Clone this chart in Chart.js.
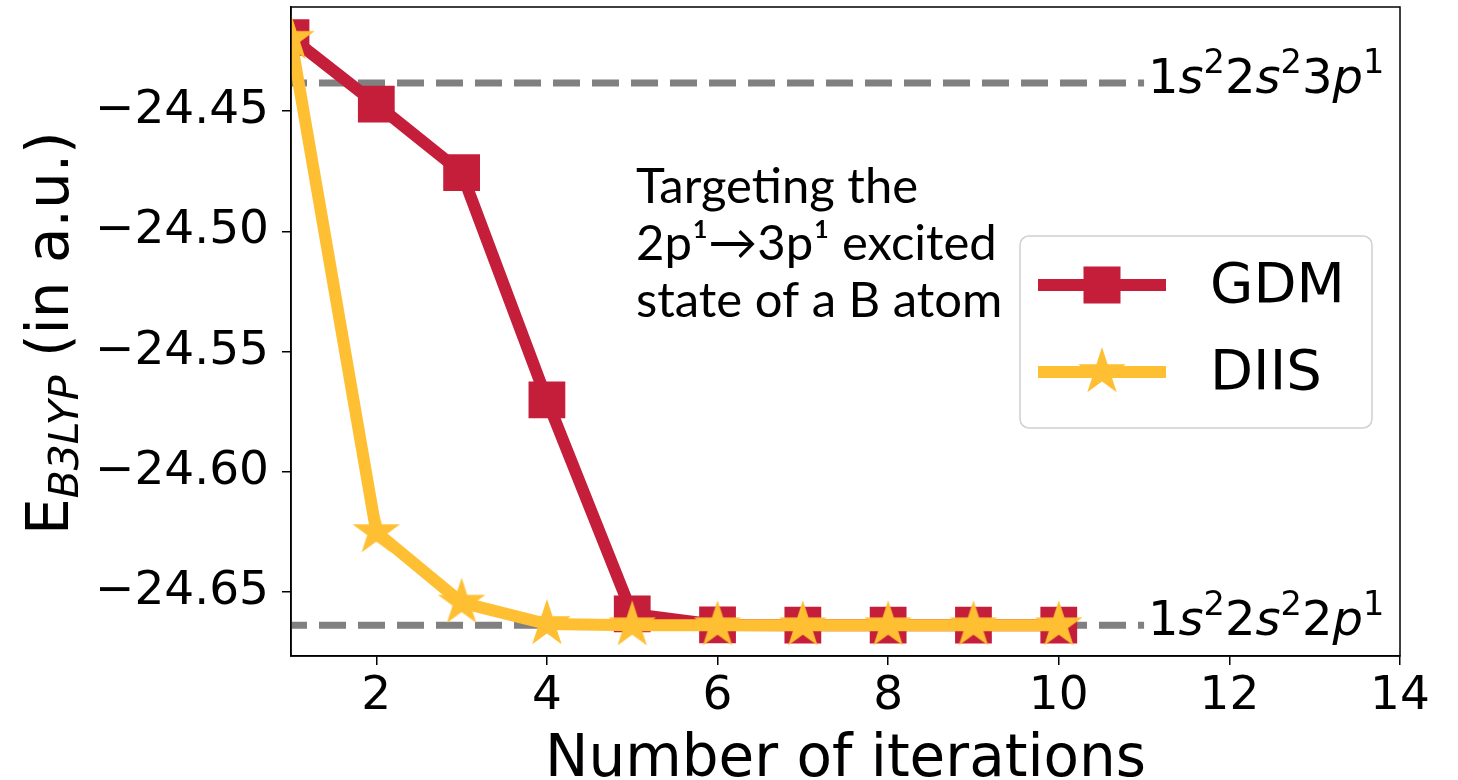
<!DOCTYPE html>
<html>
<head>
<meta charset="utf-8">
<script src="https://cdn.jsdelivr.net/npm/chart.js@4"></script>
<style>
  html, body { margin: 0; padding: 0; background: #fff; }
  canvas { display: block; }
</style>
</head>
<body>
<canvas id="chart" width="1458" height="780"></canvas>
<script>
// values
const iterations = [1, 2, 3, 4, 5, 6, 7, 8, 9, 10];
const gdmEnergy = [-24.4195, -24.4472, -24.4756, -24.5701, -24.6590, -24.6636, -24.6637, -24.6637, -24.6637, -24.6637];
const diisEnergy = [-24.4200, -24.6250, -24.6543, -24.6632, -24.6637, -24.6637, -24.6637, -24.6637, -24.6637, -24.6637];
const refLevels = [-24.4384, -24.6637];
const refSpan = [1, 11];
const refNames = [
  [['1'], ['s', 'i'], ['2', 's'], ['2'], ['s', 'i'], ['2', 's'], ['3'], ['p', 'i'], ['1', 's']],
  [['1'], ['s', 'i'], ['2', 's'], ['2'], ['s', 'i'], ['2', 's'], ['2'], ['p', 'i'], ['1', 's']]
];
const xRange = [1, 14];
const yRange = [-24.6765, -24.4068];
const xTicks = [2, 4, 6, 8, 10, 12, 14];
const yTicks = [-24.65, -24.60, -24.55, -24.50, -24.45];
const seriesNames = ['GDM', 'DIIS'];
const noteLines = ['Targeting the', '2p\u00B9\u21923p\u00B9 excited', 'state of a B atom'];

const PLOT_TOP = 7;
const RED = '#C41E3A';
const YELLOW = '#FFBF33';
const GRAY = '#808080';
const FONT = '"DejaVu Sans", sans-serif';

// filled star like matplotlib's '*' marker
function makeStar(R, color) {
  const c = document.createElement('canvas');
  const s = Math.ceil(2 * R + 2);
  c.width = s; c.height = s;
  const g = c.getContext('2d');
  g.translate(s / 2, s / 2);
  g.beginPath();
  for (let i = 0; i < 10; i++) {
    const r = i % 2 === 0 ? R : R * 0.381966;
    const a = -Math.PI / 2 + i * Math.PI / 5;
    g.lineTo(r * Math.cos(a), r * Math.sin(a));
  }
  g.closePath();
  g.fillStyle = color;
  g.fill();
  return c;
}
const starImg = makeStar(25, YELLOW);

// draw mathtext-like run: [text, flag] with flag i = italic, s = superscript
function drawRun(ctx, parts, x, y, size) {
  ctx.textBaseline = 'alphabetic';
  ctx.textAlign = 'left';
  parts.forEach(([t, f]) => {
    const sup = f === 's';
    const fs = sup ? size * 0.7 : size;
    ctx.font = (f === 'i' ? 'italic ' : '') + fs + 'px ' + FONT;
    ctx.fillText(t, x, sup ? y - size * 0.42 : y);
    x += ctx.measureText(t).width;
  });
}

const decor = {
  id: 'decor',
  // the big tick labels push the plot box down; put its top back
  afterLayout(chart) {
    const a = chart.chartArea, y = chart.scales.y;
    a.top = PLOT_TOP;
    a.height = a.bottom - a.top;
    y.top = PLOT_TOP;
    y.height = y.bottom - y.top;
    y.configure();
  },
  afterDraw(chart) {
    const { ctx, chartArea: a, scales } = chart;
    ctx.save();
    ctx.fillStyle = '#000';

    // frame
    ctx.strokeStyle = '#000';
    ctx.lineWidth = 1.5;
    ctx.strokeRect(a.left, a.top, a.right - a.left, a.bottom - a.top);

    // labels at the end of the reference lines
    refLevels.forEach((lv, i) => {
      const px = scales.x.getPixelForValue(refSpan[1]) + 4;
      const py = scales.y.getPixelForValue(lv) + 10;
      drawRun(ctx, refNames[i], px, py, 48);
    });

    // note text
    ctx.font = '49px Lato, "Open Sans", sans-serif';
    ctx.textAlign = 'left';
    ctx.textBaseline = 'alphabetic';
    noteLines.forEach((t, i) => ctx.fillText(t, 636, 203 + i * 57));

    // legend
    const bx = 1020, by = 236, bw = 352, bh = 192, rr = 9;
    ctx.beginPath();
    ctx.moveTo(bx + rr, by);
    ctx.arcTo(bx + bw, by, bx + bw, by + bh, rr);
    ctx.arcTo(bx + bw, by + bh, bx, by + bh, rr);
    ctx.arcTo(bx, by + bh, bx, by, rr);
    ctx.arcTo(bx, by, bx + bw, by, rr);
    ctx.closePath();
    ctx.fillStyle = 'rgba(255,255,255,0.8)';
    ctx.fill();
    ctx.strokeStyle = '#d0d0d0';
    ctx.lineWidth = 1.5;
    ctx.stroke();

    const rows = [285, 372];
    const colors = [RED, YELLOW];
    rows.forEach((ry, i) => {
      ctx.strokeStyle = colors[i];
      ctx.lineWidth = 12;
      ctx.beginPath();
      ctx.moveTo(1038, ry);
      ctx.lineTo(1166, ry);
      ctx.stroke();
      if (i === 0) {
        ctx.fillStyle = RED;
        ctx.fillRect(1102 - 18.5, ry - 18.5, 37, 37);
      } else {
        ctx.drawImage(starImg, 1102 - starImg.width / 2, ry - starImg.height / 2);
      }
      ctx.fillStyle = '#000';
      ctx.font = '56px ' + FONT;
      ctx.textBaseline = 'middle';
      ctx.fillText(seriesNames[i], 1210, ry + 2);
    });

    // x title
    ctx.textAlign = 'center';
    ctx.textBaseline = 'alphabetic';
    ctx.font = '58px ' + FONT;
    ctx.fillText('Number of iterations', (a.left + a.right) / 2, 776);

    // y title, rotated, with italic subscript
    ctx.translate(68, 535);
    ctx.rotate(-Math.PI / 2);
    ctx.textAlign = 'left';
    let x = 0;
    ctx.font = '58px ' + FONT;
    ctx.fillText('E', x, 0);
    x += ctx.measureText('E').width;
    ctx.font = 'italic 41px ' + FONT;
    ctx.fillText('B3LYP', x, 10);
    x += ctx.measureText('B3LYP').width;
    ctx.font = '58px ' + FONT;
    ctx.fillText(' (in a.u.)', x, 0);

    ctx.restore();
  }
};

const pts = arr => iterations.map((it, i) => ({ x: it, y: arr[i] }));

new Chart(document.getElementById('chart'), {
  type: 'line',
  data: {
    datasets: [
      {
        label: seriesNames[1],
        data: pts(diisEnergy),
        borderColor: YELLOW,
        backgroundColor: YELLOW,
        borderWidth: 12,
        borderJoinStyle: 'round',
        pointStyle: starImg,
        pointRadius: 25,
        order: 0,
        clip: 0
      },
      {
        label: seriesNames[0],
        data: pts(gdmEnergy),
        borderColor: RED,
        backgroundColor: RED,
        borderWidth: 12,
        borderJoinStyle: 'round',
        pointStyle: 'rect',
        pointRadius: 26,
        pointBorderWidth: 0,
        pointBackgroundColor: RED,
        order: 1,
        clip: 0
      },
      ...refLevels.map(lv => ({
        label: 'ref',
        data: refSpan.map(x => ({ x, y: lv })),
        borderColor: GRAY,
        borderWidth: 7,
        borderDash: [27, 12],
        borderDashOffset: 11,
        pointRadius: 0,
        order: 2,
        clip: 0
      }))
    ]
  },
  options: {
    responsive: false,
    animation: false,
    layout: { padding: { left: 0, right: 58, top: PLOT_TOP, bottom: 0 } },
    plugins: {
      legend: { display: false },
      tooltip: { enabled: false }
    },
    scales: {
      x: {
        type: 'linear',
        min: xRange[0],
        max: xRange[1],
        afterBuildTicks: s => {
          s.ticks = xTicks.map(v => ({ value: v }));
          s.min = xRange[0]; s.max = xRange[1];
        },
        afterFit: s => { s.height = 124; s.paddingLeft = 0; s.paddingRight = 0; },
        grid: { drawOnChartArea: false, drawTicks: true, tickLength: 9, color: '#000', lineWidth: 1.5 },
        border: { display: true, color: '#000', width: 1.5 },
        ticks: {
          color: '#000',
          font: { family: 'DejaVu Sans', size: 47 },
          padding: 4,
          maxRotation: 0,
          callback: v => String(v)
        }
      },
      y: {
        type: 'linear',
        min: yRange[0],
        max: yRange[1],
        afterBuildTicks: s => {
          s.ticks = yTicks.map(v => ({ value: v }));
          s.min = yRange[0]; s.max = yRange[1];
        },
        afterFit: s => { s.width = 291; s.paddingTop = 0; s.paddingBottom = 0; },
        grid: { drawOnChartArea: false, drawTicks: true, tickLength: 9, color: '#000', lineWidth: 1.5 },
        border: { display: true, color: '#000', width: 1.5 },
        ticks: {
          color: '#000',
          font: { family: 'DejaVu Sans', size: 47 },
          padding: 13,
          callback: v => '\u2212' + Math.abs(v).toFixed(2)
        }
      }
    }
  },
  plugins: [decor]
});
</script>
</body>
</html>
